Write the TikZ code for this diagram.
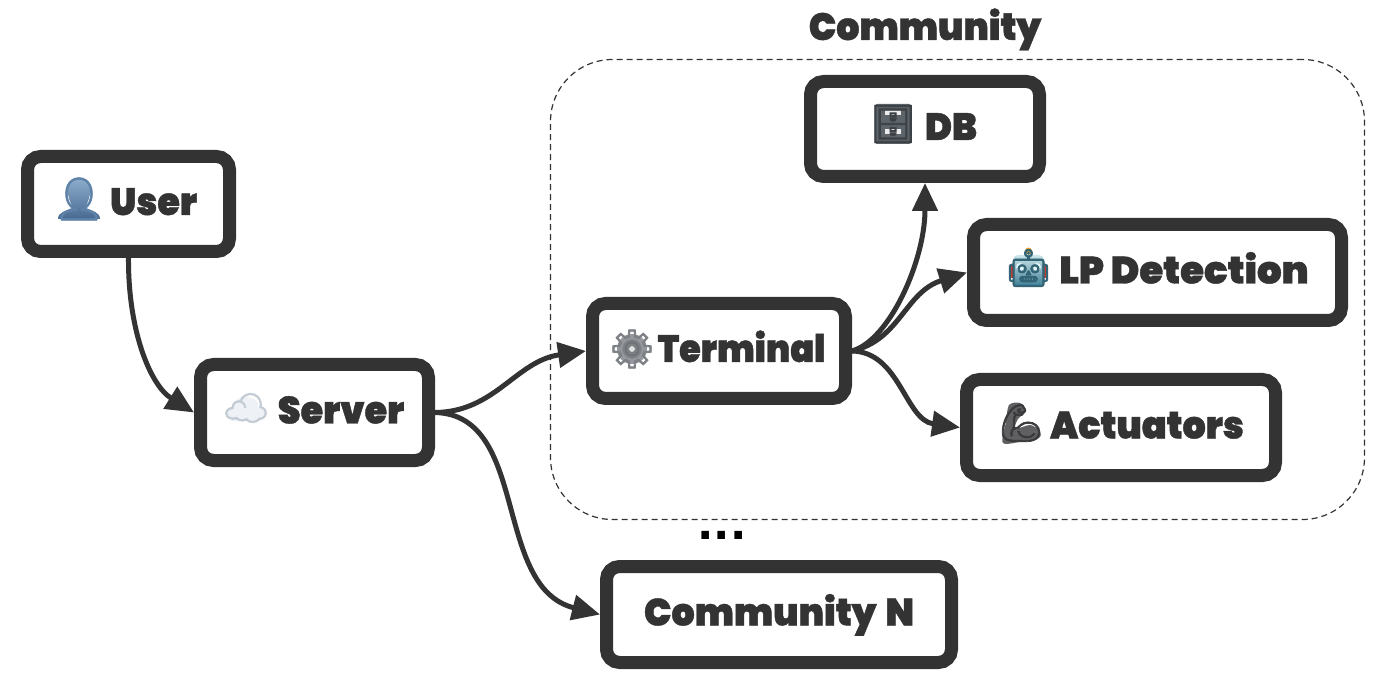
\documentclass[tikz,border=0pt]{standalone}
\usepackage{fontspec}
\usetikzlibrary{arrows.meta}
\setmainfont{Poppins}
\newfontfamily\labfont[FakeStretch=0.96,FakeBold=1]{Poppins Black}
\newfontfamily\narrowfont[FakeStretch=0.92,FakeBold=1]{Poppins Black}
\newfontfamily\widefont[FakeStretch=1.02,FakeBold=1]{Poppins Black}
\newfontfamily\dotfont{DejaVu Sans Bold}
\newfontfamily\emofont[FakeBold=2]{Noto Emoji}
\definecolor{ink}{HTML}{333333}
\definecolor{userTop}{RGB}{140,172,203}
\definecolor{userBot}{RGB}{72,106,146}
\definecolor{userLine}{RGB}{95,131,168}
\definecolor{cloudFill}{RGB}{238,241,245}
\definecolor{cloudLine}{RGB}{195,204,212}
\definecolor{gearFill}{RGB}{148,151,155}
\definecolor{gearHub}{RGB}{110,113,117}
\definecolor{gearEye}{RGB}{225,225,225}
\definecolor{gearLine}{RGB}{125,128,132}
\definecolor{cabFill}{RGB}{94,101,106}
\definecolor{cabLabel}{RGB}{235,235,235}
\definecolor{cabLine}{RGB}{60,65,70}
\definecolor{botEar}{RGB}{190,60,50}
\definecolor{botBulb}{RGB}{240,165,40}
\definecolor{botTop}{RGB}{205,230,234}
\definecolor{botBot}{RGB}{60,125,148}
\definecolor{botLine}{RGB}{50,100,118}
\definecolor{botEye}{RGB}{225,245,250}
\definecolor{armFill}{RGB}{96,96,98}
\definecolor{armLine}{RGB}{58,58,60}
\tikzset{
  x=1pt,y=-1pt,
  lab/.style={font=\labfont\fontsize{38pt}{40pt}\selectfont,text height=22pt,text depth=0pt},
  box/.style={draw=ink,line width=13pt,rounded corners=13pt,fill=white,inner sep=0pt,
    lab,text=ink,anchor=center},
  conn/.style={draw=ink,line width=5pt,-{Triangle[length=28pt,width=25pt]}},
  group/.style={draw=ink,line width=1.2pt,dash pattern=on 6pt off 4pt,rounded corners=62pt},
  emo/.style={font=\emofont\fontsize{#1pt}{#1pt}\selectfont,inner sep=0pt,anchor=center},
  emo/.default=42,
}
\begin{document}
\begin{tikzpicture}
\useasboundingbox (0,0) rectangle (1376,700);
\fill[white] (0,0) rectangle (1376,700);
\node[group,minimum width=814pt,minimum height=460pt,inner sep=0pt] (grp) at (957.5,289.5) {};
\node[lab,text=ink,inner sep=0pt] (grplabel) at (925,29) {Community};
\node[font=\dotfont\fontsize{43pt}{43pt}\selectfont,text=black,inner sep=0pt,anchor=base] (dots) at (722,539) {...};
% boxes
\node[box,minimum width=202pt,minimum height=95pt] (user) at (128.5,204) {\hspace{50pt}User};
\node[box,minimum width=228pt,minimum height=96pt] (server) at (314.5,412.5) {\hspace{53pt}Server};
\node[box,minimum width=253pt,minimum height=95pt] (terminal) at (719,351) {\hspace{45pt}\narrowfont Terminal};
\node[box,minimum width=229pt,minimum height=95pt] (db) at (925,129) {\hspace{52pt}DB};
\node[box,minimum width=368pt,minimum height=96pt] (lp) at (1157.5,272.5) {\hspace{53pt}\widefont LP Detection};
\node[box,minimum width=309pt,minimum height=96pt] (act) at (1121,427.5) {\hspace{52pt}Actuators};
\node[box,minimum width=345pt,minimum height=96pt] (commn) at (779,614.5) {Community\hspace{3pt} N};
% emoji: solid tint under the outline glyph
\shade[top color=userTop,bottom color=userBot]
  (79,179) .. controls (87,179) and (91,186) .. (90,194) .. controls (89,201) and (86,204) .. (86,208)
  .. controls (92,211) and (100,212) .. (100,219) -- (58,219) .. controls (58,212) and (66,211) .. (72,208)
  .. controls (72,204) and (69,201) .. (68,194) .. controls (67,186) and (71,179) .. (79,179) -- cycle;
\fill[cloudFill] (234,421) .. controls (224,421) and (223,409) .. (232,407)
  .. controls (233,400) and (243,393) .. (250,398) .. controls (256,398) and (259,403) .. (258,406)
  .. controls (268,408) and (268,421) .. (258,421) -- cycle;
\fill[gearFill] (632,349) circle (15pt);
\fill[gearHub] (632,349) circle (8pt);
\fill[gearEye] (632,349) circle (3pt);
\fill[cabFill,rounded corners=2pt] (875,104) rectangle (911,144);
\fill[cabLabel] (885,110) rectangle (901,115);
\fill[cabLabel] (885,129) rectangle (901,134);
\fill[botEar] (1009.5,265) rectangle (1047.5,278);
\fill[botBulb] (1028.5,251) circle (3.5pt);
\shade[top color=botTop,bottom color=botBot,rounded corners=5pt]
  (1013,255) rectangle (1044,287);
\fill[botEye] (1020,267) circle (4pt);
\fill[botEye] (1037,267) circle (4pt);
\fill[armFill] plot[smooth cycle] coordinates
  {(1009,405) (1020,403) (1026,411) (1018,419) (1015,429) (1030,425) (1040,431) (1039,438) (1024,441) (1003,443) (1006,422)};
% emoji glyphs
\node[emo,text=userLine] (icuser) at (79,199) {👤};
\node[emo=36,text=cloudLine] (iccloud) at (246,408) {☁};
\node[emo=38,text=gearLine] (icgear) at (632,349) {⚙};
\node[emo=37,text=cabLine] (iccab) at (893,124) {🗄};
\node[emo=37,text=botLine] (icbot) at (1028.5,268) {🤖};
\node[emo=37,text=armLine] (icarm) at (1021,423) {💪};
% connectors
\draw[conn] (user.south) .. controls (128,330) and (150,385) .. (server.west);
\draw[conn] (server.east) .. controls (495,412) and (516,361) .. (terminal.west);
\draw[conn] (server.east) .. controls (530,415) and (492,587) .. (commn.west);
\draw[conn] (terminal.east) .. controls (890,340) and (925,260) .. (db.south);
\draw[conn] (terminal.east) .. controls (900,340) and (905,292) .. (lp.west);
\draw[conn] (terminal.east) .. controls (900,352) and (905,420) .. (act.west);
\end{tikzpicture}
\end{document}
